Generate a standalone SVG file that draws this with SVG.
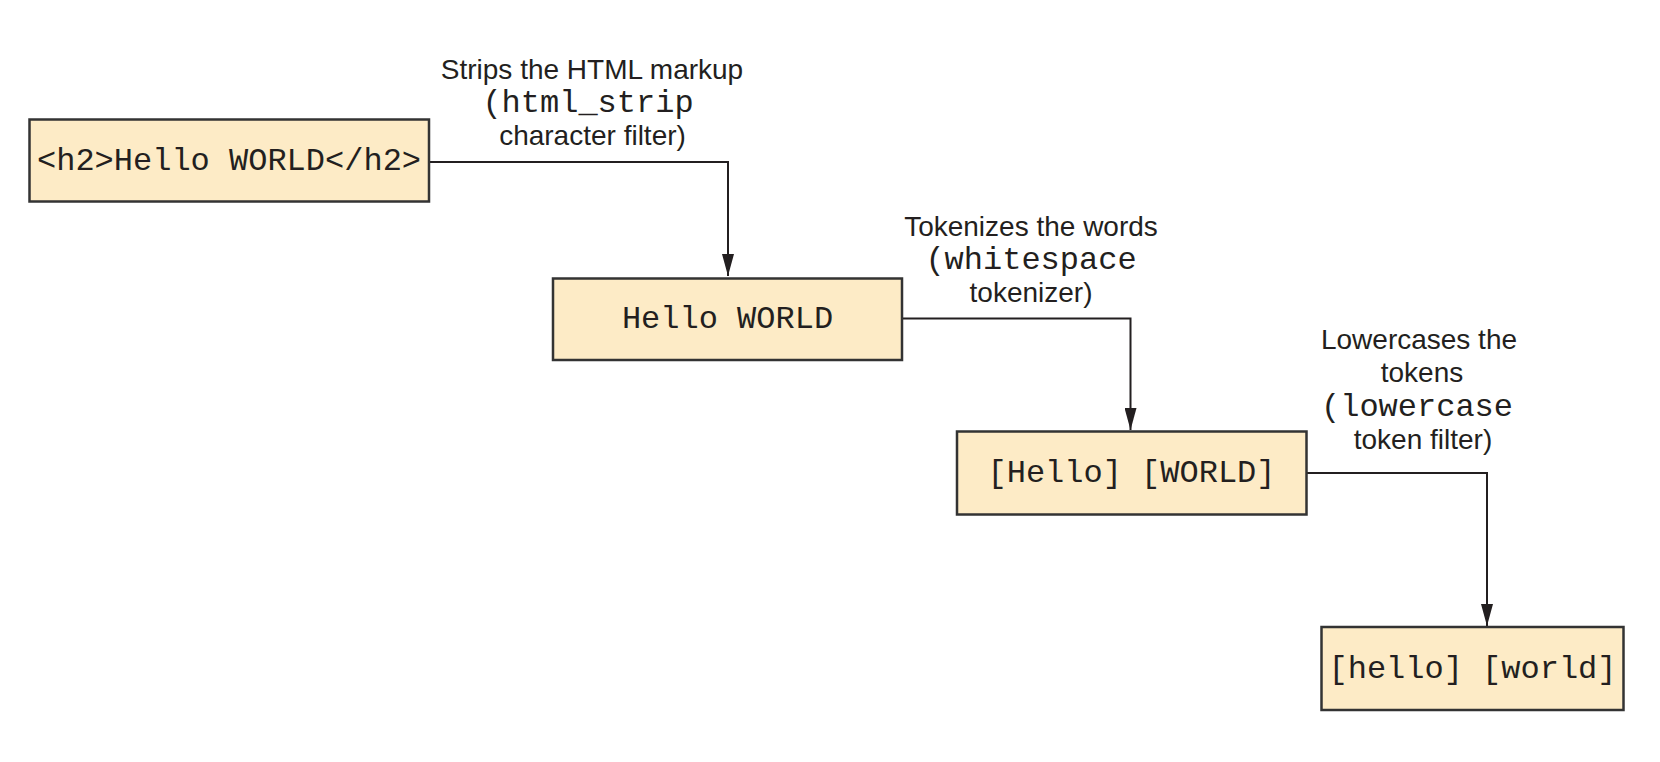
<svg xmlns="http://www.w3.org/2000/svg" width="1660" height="762" viewBox="0 0 1660 762">
<style>
.box{fill:#fdebc6;stroke:#333333;stroke-width:2.5}
.mono{font-family:"Liberation Mono","Courier New",monospace;font-size:32px;fill:#231f20;text-anchor:middle}
.sans{font-family:"Liberation Sans",Arial,sans-serif;font-size:28px;fill:#231f20;text-anchor:middle}
.conn{fill:none;stroke:#231f20;stroke-width:2}
</style>
<defs>
<marker id="arrow" markerUnits="userSpaceOnUse" viewBox="0 0 22 12" markerWidth="22" markerHeight="12" refX="22" refY="6" orient="auto">
<path d="M0,0 L22,6 L0,12 Z" fill="#231f20"/>
</marker>
</defs>
<rect width="1660" height="762" fill="#ffffff"/>
<g id="connectors">
<path class="conn" d="M429,162 H728 V276" marker-end="url(#arrow)"/>
<path class="conn" d="M902,318.5 H1130.5 V430" marker-end="url(#arrow)"/>
<path class="conn" d="M1306.5,473 H1487 V626" marker-end="url(#arrow)"/>
</g>
<g id="node-input">
<rect class="box" x="29.5" y="119.5" width="399.5" height="82"/>
<text class="mono" x="229" y="170">&lt;h2&gt;Hello WORLD&lt;/h2&gt;</text>
</g>
<g id="node-stripped">
<rect class="box" x="553" y="278.5" width="349" height="81.5"/>
<text class="mono" x="727.5" y="328">Hello WORLD</text>
</g>
<g id="node-tokens">
<rect class="box" x="957" y="431.5" width="349.5" height="83"/>
<text class="mono" x="1131.5" y="482">[Hello] [WORLD]</text>
</g>
<g id="node-lowercase">
<rect class="box" x="1321.5" y="627" width="302" height="83"/>
<text class="mono" x="1472.5" y="678">[hello] [world]</text>
</g>
<g id="label-html-strip">
<text class="sans" x="592" y="78.5">Strips the HTML markup</text>
<text class="mono" x="588" y="111.8">(html_strip</text>
<text class="sans" x="592.5" y="145">character filter)</text>
</g>
<g id="label-whitespace">
<text class="sans" x="1031" y="235.5">Tokenizes the words</text>
<text class="mono" x="1031" y="268.5">(whitespace</text>
<text class="sans" x="1031" y="302">tokenizer)</text>
</g>
<g id="label-lowercase">
<text class="sans" x="1419" y="348.5">Lowercases the</text>
<text class="sans" x="1422" y="382">tokens</text>
<text class="mono" x="1417" y="415.5">(lowercase</text>
<text class="sans" x="1423" y="449">token filter)</text>
</g>
</svg>
